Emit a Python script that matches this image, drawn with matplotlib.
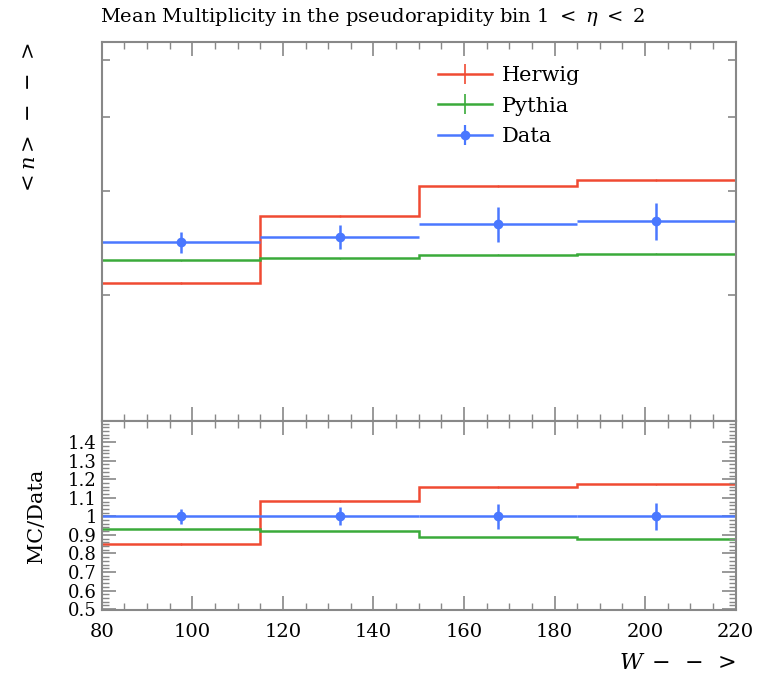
import numpy as np
import matplotlib
matplotlib.use("Agg")
import matplotlib.pyplot as plt
from matplotlib.lines import Line2D
from matplotlib.ticker import MultipleLocator, NullFormatter, FixedLocator

plt.rcParams['font.family'] = ['DejaVu Serif']
plt.rcParams['mathtext.fontset'] = 'dejavuserif'

# bins in W
edges = [80, 115, 150, 185, 220]
centers = [97.5, 132.5, 167.5, 202.5]

# mean multiplicity
data_vals = [2.46, 2.51, 2.64, 2.67]
data_err = [0.10, 0.12, 0.18, 0.19]
herwig_vals = [2.095, 2.72, 3.06, 3.13]
herwig_err = [0.01, 0.01, 0.01, 0.01]
pythia_vals = [2.29, 2.31, 2.34, 2.35]
pythia_err = [0.005, 0.005, 0.005, 0.005]

c_herwig = '#f04a32'
c_pythia = '#3aaa3a'
c_data = '#4a78ff'
frame = '#888888'

d = np.array(data_vals)
r_herwig = np.array(herwig_vals) / d
r_pythia = np.array(pythia_vals) / d
r_data_err = np.array(data_err) / d

fig = plt.figure(figsize=(7.6, 6.75), dpi=100)
ax1 = fig.add_axes([0.134, 0.376, 0.834, 0.562])
ax2 = fig.add_axes([0.134, 0.096, 0.834, 0.280])

lw = 1.8
# top panel
ax1.stairs(herwig_vals, edges, color=c_herwig, lw=lw, baseline=None)
ax1.errorbar(centers, herwig_vals, yerr=herwig_err, fmt='none', ecolor=c_herwig, elinewidth=1)
ax1.stairs(pythia_vals, edges, color=c_pythia, lw=lw, baseline=None)
ax1.errorbar(centers, pythia_vals, yerr=pythia_err, fmt='none', ecolor=c_pythia, elinewidth=1)
ax1.errorbar(centers, data_vals, xerr=17.5, yerr=data_err, fmt='o', color=c_data,
             ms=6, elinewidth=lw, capsize=0)

h1 = Line2D([], [], color=c_herwig, lw=lw, marker='|', ms=14, mew=1.2)
h2 = Line2D([], [], color=c_pythia, lw=lw, marker='|', ms=14, mew=1.2)
h3a = Line2D([], [], color=c_data, lw=lw, marker='|', ms=14, mew=1.6)
h3b = Line2D([], [], color=c_data, lw=0, marker='o', ms=6)
ax1.legend([h1, h2, (h3a, h3b)], ['Herwig', 'Pythia', 'Data'], loc='upper left',
           bbox_to_anchor=(0.5, 0.985), frameon=False, fontsize=15,
           handlelength=2.6, labelspacing=0.55, handletextpad=0.5)

ax1.set_yscale('log')
ax1.set_ylim(1.223, 5.37)
ax1.set_xlim(80, 220)
ax1.yaxis.set_major_locator(FixedLocator([2, 3, 4, 5]))
ax1.yaxis.set_minor_locator(FixedLocator([]))
ax1.yaxis.set_major_formatter(NullFormatter())
ax1.xaxis.set_major_formatter(NullFormatter())
ax1.set_title(r'Mean Multiplicity in the pseudorapidity bin $1\ <\ \eta\ <\ 2$',
              loc='left', fontsize=14, pad=14, x=-0.003)
ax1.set_ylabel(r'$<n>\;-\;-\;>$', loc='top', fontsize=15, labelpad=42)

# ratio panel
ax2.stairs(r_herwig, edges, color=c_herwig, lw=lw, baseline=None)
ax2.errorbar(centers, r_herwig, yerr=0.004, fmt='none', ecolor=c_herwig, elinewidth=1)
ax2.stairs(r_pythia, edges, color=c_pythia, lw=lw, baseline=None)
ax2.errorbar(centers, np.ones(4), xerr=17.5, yerr=r_data_err, fmt='o', color=c_data,
             ms=6, elinewidth=lw, capsize=0)
ax2.set_xlim(80, 220)
ax2.set_ylim(0.494, 1.513)
ax2.yaxis.set_minor_locator(MultipleLocator(0.02))
ratio_ticks = np.round(np.arange(0.5, 1.41, 0.1), 1)
ax2.set_yticks(ratio_ticks)
ax2.set_yticklabels([f'{v:g}' for v in ratio_ticks])
ax2.set_ylabel('MC/Data', fontsize=15, labelpad=16)
ax2.set_xlabel(r'$W\;-\;-\;>$', loc='right', fontsize=16, labelpad=8)

for ax in (ax1, ax2):
    ax.xaxis.set_major_locator(MultipleLocator(20))
    ax.xaxis.set_minor_locator(MultipleLocator(5))
    ax.tick_params(which='both', direction='in', top=True, right=True, color=frame,
                   labelsize=14)
    ax.tick_params(which='major', length=10, width=1.2)
    ax.tick_params(which='minor', length=5, width=1)
    for s in ax.spines.values():
        s.set_color(frame)
        s.set_linewidth(1.5)
ax1.tick_params(axis='y', which='major', length=6)
ax2.tick_params(axis='y', labelsize=13)
ax2.tick_params(axis='x', pad=9)

fig.savefig('out.png', dpi=100)
